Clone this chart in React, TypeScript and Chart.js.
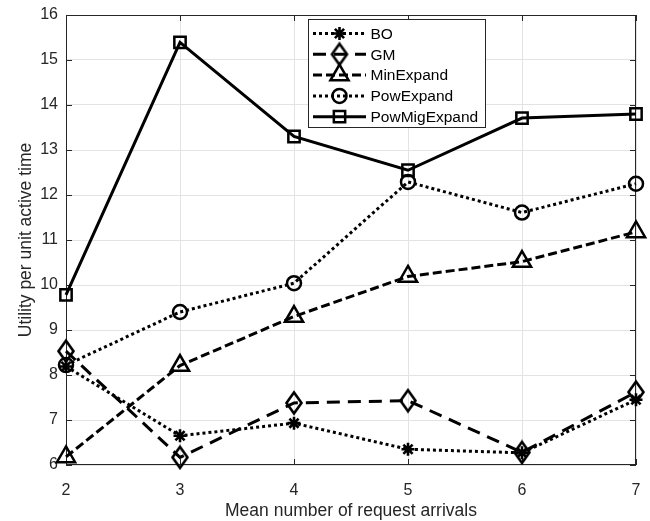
import React, { useEffect, useRef } from 'react';
import { Chart, registerables } from 'chart.js';
import { drawPoint } from 'chart.js/helpers';

Chart.register(...registerables);

const xValues = [2, 3, 4, 5, 6, 7];
const yTickValues = [6, 7, 8, 9, 10, 11, 12, 13, 14, 15, 16];
const seriesLabels = ['BO', 'GM', 'MinExpand', 'PowExpand', 'PowMigExpand'];
const boValues = [8.19, 6.65, 6.93, 6.35, 6.27, 7.45];
const gmValues = [8.53, 6.17, 7.38, 7.43, 6.28, 7.62];
const minExpandValues = [6.18, 8.21, 9.3, 10.19, 10.52, 11.18];
const powExpandValues = [8.22, 9.4, 10.04, 12.29, 11.61, 12.25];
const powMigExpandValues = [9.78, 15.39, 13.3, 12.55, 13.71, 13.8];
const xTitle = 'Mean number of request arrivals';
const yTitle = 'Utility per unit active time';

const FONT = '"Liberation Sans", Arial, Helvetica, sans-serif';
const AXIS_COLOR = '#262626';

const styles: { pointStyle: any; radius: number; width: number; dash: number[] }[] = [
  { pointStyle: 'star', radius: 6.5, width: 2.6, dash: [3, 3] },
  { pointStyle: 'diamond', radius: 8, width: 2.5, dash: [13, 8] },
  { pointStyle: 'triangle', radius: 10.5, width: 2.5, dash: [9, 4] },
  { pointStyle: 'circle', radius: 7, width: 2.5, dash: [3, 3] },
  { pointStyle: 'rect', radius: 8, width: 2.5, dash: [] },
];

const seriesValues = [boValues, gmValues, minExpandValues, powExpandValues, powMigExpandValues];

function makeDiamond(): HTMLCanvasElement {
  const c = document.createElement('canvas');
  c.width = 22;
  c.height = 26;
  const g = c.getContext('2d')!;
  g.strokeStyle = '#000';
  g.lineWidth = 2.6;
  g.lineJoin = 'miter';
  g.beginPath();
  g.moveTo(11, 2.5);
  g.lineTo(18.5, 13);
  g.lineTo(11, 23.5);
  g.lineTo(3.5, 13);
  g.closePath();
  g.stroke();
  return c;
}

function resolveStyle(s: any, diamond: HTMLCanvasElement) {
  return s === 'diamond' ? diamond : s;
}

const overlayPlugin = {
  id: 'overlay',
  beforeDatasetsDraw(chart: any) {
    const { ctx, chartArea } = chart;
    const { left, right, top, bottom } = chartArea;
    const xs = chart.scales.x;
    const ys = chart.scales.y;
    ctx.save();
    ctx.strokeStyle = AXIS_COLOR;
    ctx.lineWidth = 1;
    ctx.setLineDash([]);
    ctx.beginPath();
    const tl = 6;
    for (const v of xValues) {
      const px = Math.round(xs.getPixelForValue(v)) + 0.5;
      ctx.moveTo(px, bottom);
      ctx.lineTo(px, bottom - tl);
      ctx.moveTo(px, top);
      ctx.lineTo(px, top + tl);
    }
    for (const v of yTickValues) {
      const py = Math.round(ys.getPixelForValue(v)) + 0.5;
      ctx.moveTo(left, py);
      ctx.lineTo(left + tl, py);
      ctx.moveTo(right, py);
      ctx.lineTo(right - tl, py);
    }
    ctx.stroke();
    ctx.strokeRect(Math.round(left) + 0.5, Math.round(top) + 0.5, Math.round(right - left) - 1, Math.round(bottom - top) - 1);
    ctx.restore();
  },
  afterDatasetsDraw(chart: any) {
    const { ctx } = chart;
    const diamond = chart.$diamond;
    ctx.save();
    const bx = 308.5, by = 19.5, bw = 177, bh = 108;
    ctx.fillStyle = '#ffffff';
    ctx.fillRect(bx, by, bw, bh);
    ctx.strokeStyle = AXIS_COLOR;
    ctx.lineWidth = 1;
    ctx.setLineDash([]);
    ctx.strokeRect(bx, by, bw, bh);
    chart.data.datasets.forEach((ds: any, i: number) => {
      const cy = 33.5 + i * 20.8;
      ctx.save();
      ctx.strokeStyle = '#000';
      ctx.lineWidth = 3;
      ctx.lineCap = 'butt';
      ctx.setLineDash(styles[i].dash);
      ctx.beginPath();
      ctx.moveTo(313, cy);
      ctx.lineTo(366, cy);
      ctx.stroke();
      ctx.restore();
      ctx.save();
      ctx.setLineDash([]);
      ctx.strokeStyle = '#000';
      ctx.fillStyle = 'rgba(0,0,0,0)';
      ctx.lineWidth = styles[i].width;
      drawPoint(ctx, { pointStyle: resolveStyle(styles[i].pointStyle, diamond), radius: styles[i].radius, borderWidth: styles[i].width, rotation: 0 } as any, 339.5, cy);
      ctx.restore();
      ctx.fillStyle = '#000';
      ctx.font = `15.5px ${FONT}`;
      ctx.textBaseline = 'middle';
      ctx.textAlign = 'left';
      ctx.fillText(ds.label, 370.5, cy + 1);
    });
    ctx.restore();
  },
};

export default function App() {
  const canvasRef = useRef<HTMLCanvasElement | null>(null);

  useEffect(() => {
    const canvas = canvasRef.current;
    if (!canvas) return;
    const diamond = makeDiamond();
    const datasets = seriesLabels.map((label, i) => ({
      label,
      data: xValues.map((x, j) => ({ x, y: seriesValues[i][j] })),
      borderColor: '#000',
      backgroundColor: 'rgba(0,0,0,0)',
      borderWidth: 3,
      borderDash: styles[i].dash,
      borderCapStyle: 'butt' as const,
      pointStyle: resolveStyle(styles[i].pointStyle, diamond),
      pointRadius: styles[i].radius,
      pointHoverRadius: styles[i].radius,
      pointBorderWidth: styles[i].width,
      pointBorderColor: '#000',
      pointBackgroundColor: 'rgba(0,0,0,0)',
      tension: 0,
      fill: false,
      clip: false as any,
      order: 5 - i,
    }));
    const chart: any = new Chart(canvas, {
      type: 'line',
      data: { datasets },
      options: {
        animation: false,
        responsive: false,
        devicePixelRatio: 1,
        layout: { autoPadding: false, padding: { top: 15, right: 14, left: 0, bottom: 0 } },
        plugins: { legend: { display: false }, tooltip: { enabled: false } },
        scales: {
          x: {
            type: 'linear',
            min: 2,
            max: 7,
            afterFit: (s: any) => { s.height = 56; s.paddingRight = 0; s.paddingLeft = 0; },
            ticks: { stepSize: 1, font: { family: FONT, size: 16 }, color: AXIS_COLOR, padding: 16, maxRotation: 0 },
            grid: { color: '#e3e3e3', lineWidth: 1, drawTicks: false },
            border: { display: false },
            title: { display: true, text: xTitle, font: { family: FONT, size: 17.5, lineHeight: 1 }, color: AXIS_COLOR, padding: { top: 0, bottom: 1.5 } },
          },
          y: {
            type: 'linear',
            min: 6,
            max: 16,
            afterFit: (s: any) => { s.width = 66; s.paddingTop = 0; s.paddingBottom = 0; },
            ticks: { stepSize: 1, font: { family: FONT, size: 16 }, color: AXIS_COLOR, padding: 8 },
            grid: { color: '#e3e3e3', lineWidth: 1, drawTicks: false },
            border: { display: false },
            title: { display: true, text: yTitle, font: { family: FONT, size: 17.5 }, color: AXIS_COLOR, padding: { top: 16, bottom: 0 } },
          },
        },
      },
      plugins: [overlayPlugin],
    });
    chart.$diamond = diamond;
    chart.draw();
    return () => chart.destroy();
  }, []);

  return (
    <div style={{ position: 'absolute', left: 0, top: 0, width: 650, height: 521, background: '#fff' }}>
      <canvas ref={canvasRef} width={650} height={521} style={{ width: 650, height: 521, display: 'block' }} />
    </div>
  );
}
